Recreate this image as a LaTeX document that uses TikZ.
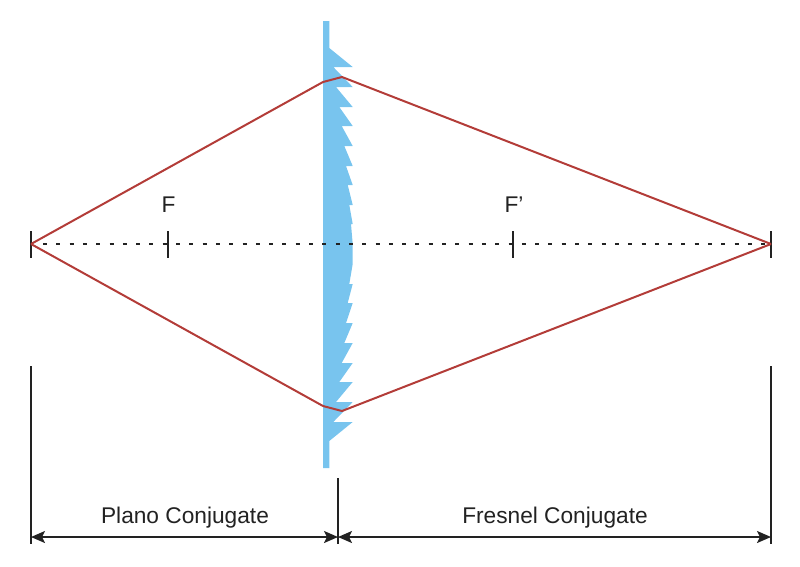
\documentclass[tikz,border=0pt]{standalone}
\usepackage{fontspec}
\setmainfont{Liberation Sans}
\usetikzlibrary{arrows.meta}
\definecolor{lensblue}{HTML}{78C4EE}
\definecolor{rayred}{HTML}{B33C38}
\definecolor{inkc}{HTML}{222222}
\tikzset{
  lens/.style={fill=lensblue,draw=none},
  ray/.style={draw=rayred,line width=2pt,line join=round},
  axisline/.style={draw=inkc,line width=2pt,dash pattern=on 4pt off 9.3pt},
  tick/.style={draw=inkc,line width=1.9pt},
  dimarrow/.style={draw=inkc,line width=1.9pt,{Stealth[length=14pt,width=12pt,inset=3pt]}-{Stealth[length=14pt,width=12pt,inset=3pt]}},
  lab/.style={font=\fontsize{22.7}{26}\selectfont,text=inkc,inner sep=0pt,anchor=base}
}
\begin{document}
\begin{tikzpicture}[x=1pt,y=-1pt]
\useasboundingbox (0,0) rectangle (800,566);
% lens
\fill[lens] (323,21) -- (329.3,21) -- (329.3,48)
 -- (352.7,67) -- (333.3,67)
 -- (352.7,87) -- (336,87)
 -- (352.7,107) -- (339.3,107)
 -- (352.7,126) -- (341.7,126)
 -- (352.7,146) -- (344.3,146)
 -- (352.7,166) -- (346,166)
 -- (352.7,185) -- (347.7,185)
 -- (352.7,205) -- (349.3,205)
 -- (352.7,224) -- (351,224)
 -- (352.7,244) -- (352.7,264) -- (351,264)
 -- (352.7,264) -- (349.3,284)
 -- (352.7,284) -- (347.7,303)
 -- (352.7,303) -- (346,323)
 -- (352.7,323) -- (344.3,343)
 -- (352.7,343) -- (341.7,363)
 -- (352.7,363) -- (339.3,382)
 -- (352.7,382) -- (336,402)
 -- (352.7,402) -- (333.3,422)
 -- (352.7,422) -- (329.3,441) -- (329.3,468) -- (323,468) -- cycle;
% named points
\coordinate (obj) at (31,244);
\coordinate (img) at (771,244);
\coordinate (ta) at (323,82);
\coordinate (tb) at (342,77);
\coordinate (ba) at (323,406);
\coordinate (bb) at (342,411);
% axis
\draw[axisline] (obj) ++(12,0) -- (img);
% ticks
\draw[tick] (31,231) -- (31,258);
\draw[tick] (168,231) -- (168,258);
\draw[tick] (513,231) -- (513,258);
\draw[tick] (771,231) -- (771,258);
% rays
\draw[ray] (obj) -- (ta) -- (tb) -- (img);
\draw[ray] (obj) -- (ba) -- (bb) -- (img);
% labels
\node[lab] (f) at (168.5,212) {F};
\node[lab] (fp) at (514,212) {F’};
% dimension lines
\coordinate (dl) at (31,537);
\coordinate (dm) at (338,537);
\coordinate (dr) at (771,537);
\draw[tick] (31,366) -- (31,544);
\draw[tick] (338,478) -- (338,544);
\draw[tick] (771,366) -- (771,544);
\draw[dimarrow] (dl) -- (dm);
\draw[dimarrow] (dm) -- (dr);
\node[lab] (pc) at (185,523) {Plano Conjugate};
\node[lab] (fc) at (555,523) {Fresnel Conjugate};
\end{tikzpicture}
\end{document}
